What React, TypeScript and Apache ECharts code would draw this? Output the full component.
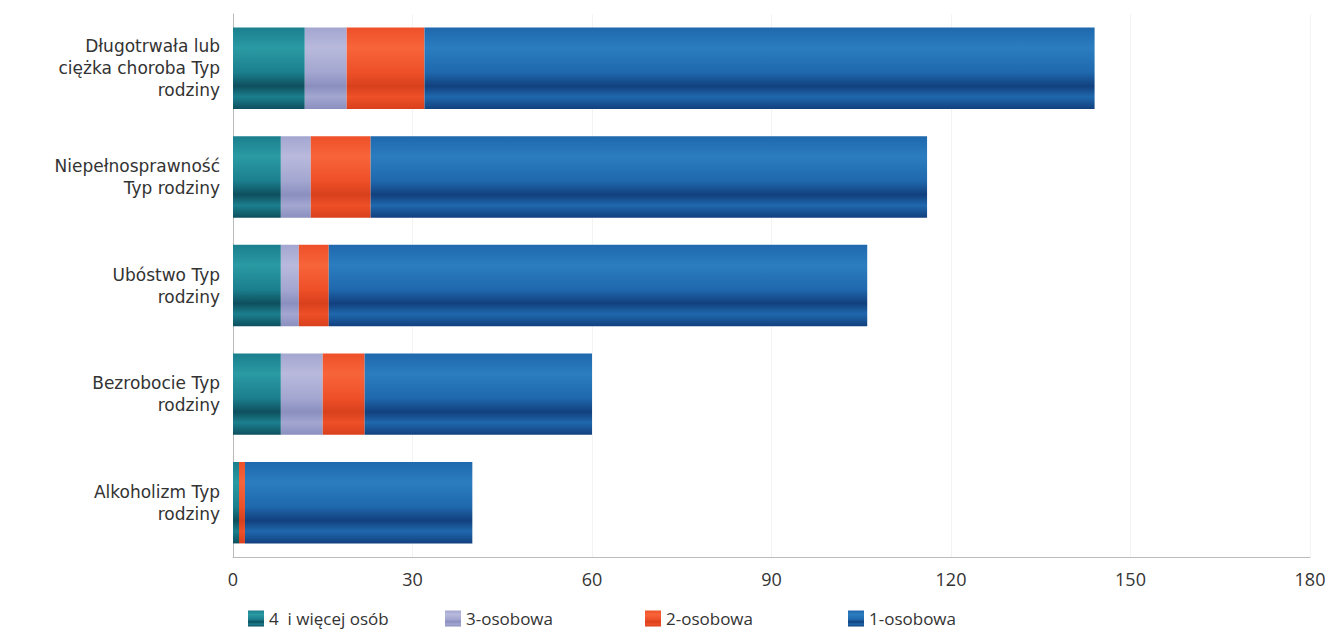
import React, { useEffect, useRef } from "react";
import * as echarts from "echarts";

const categories = [
  "Długotrwała lub\nciężka choroba Typ\nrodziny",
  "Niepełnosprawność\nTyp rodziny",
  "Ubóstwo Typ\nrodziny",
  "Bezrobocie Typ\nrodziny",
  "Alkoholizm Typ\nrodziny",
];
const seriesNames = ["4  i więcej osób", "3-osobowa", "2-osobowa", "1-osobowa"];
const fourPlus = [12, 8, 8, 8, 1];
const three = [7, 5, 3, 7, 0];
const two = [13, 10, 5, 7, 1];
const one = [112, 93, 90, 38, 38];
const xTicks = { min: 0, max: 180, interval: 30 };

const grad = (light: string, base: string, dark: string) =>
  new echarts.graphic.LinearGradient(0, 0, 0, 1, [
    { offset: 0, color: base },
    { offset: 0.25, color: light },
    { offset: 0.55, color: base },
    { offset: 0.72, color: dark },
    { offset: 0.85, color: base },
    { offset: 1, color: dark },
  ]);

export default function App() {
  const ref = useRef<HTMLDivElement>(null);
  useEffect(() => {
    if (!ref.current) return;
    const chart = echarts.init(ref.current, undefined, { renderer: "svg" });
    const colors = [
      grad("#2a9aa3", "#1b7f8d", "#0e4f5e"),
      grad("#b8b9dc", "#a3a6d0", "#8a8fbf"),
      grad("#f8643a", "#ee5028", "#d8401c"),
      grad("#2b7dc0", "#1f68ad", "#12407e"),
    ];
    const datas = [fourPlus, three, two, one];
    const legendLefts = [243, 440, 640, 843];
    chart.setOption({
      animation: false,
      grid: { left: 233, right: 23, top: 14, bottom: 80, containLabel: false },
      legend: seriesNames.map((name, i) => ({
        left: legendLefts[i],
        bottom: 5,
        itemWidth: 16,
        itemHeight: 16,
        icon: "rect",
        data: [name],
        textStyle: {
          fontFamily: "Open Sans",
          fontSize: 17,
          color: "#333",
        },
      })),
      xAxis: {
        type: "value",
        min: xTicks.min,
        max: xTicks.max,
        interval: xTicks.interval,
        axisLine: { show: true, lineStyle: { color: "#bbb" } },
        axisTick: { show: false },
        splitLine: { show: true, lineStyle: { color: "#f3f3f3" } },
        axisLabel: {
          fontFamily: "Open Sans",
          fontSize: 18,
          color: "#333",
          margin: 13,
        },
      },
      yAxis: {
        type: "category",
        inverse: true,
        data: categories,
        axisLine: { show: true, lineStyle: { color: "#bbb" } },
        axisTick: { show: false },
        axisLabel: {
          fontFamily: "DejaVu Sans",
          fontSize: 17,
          color: "#333",
          margin: 13,
          lineHeight: 22,
          align: "right",
        },
      },
      series: seriesNames.map((name, i) => ({
        name,
        type: "bar",
        stack: "total",
        barCategoryGap: "25%",
        data: datas[i],
        itemStyle: { color: colors[i] },
      })),
    });
    return () => chart.dispose();
  }, []);
  return <div ref={ref} style={{ width: 1333, height: 637, margin: -8 }} />;
}
